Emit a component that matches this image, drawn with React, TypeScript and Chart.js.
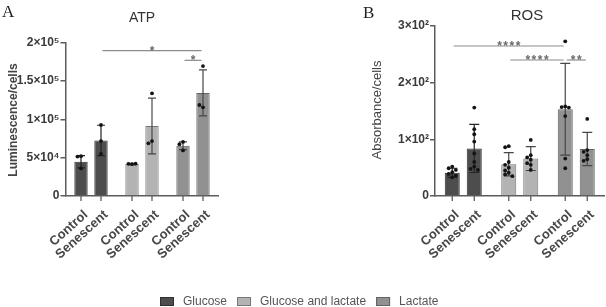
import React, { useEffect, useRef } from 'react';
import { Chart, registerables } from 'chart.js';

Chart.register(...registerables);

// ---------- data ----------
const categories = ['Glucose', 'Glucose and lactate', 'Lactate'];
const conditions = ['Control', 'Senescent'];

// ATP (Luminescence/cells)
const atpMeanControl = [44800, 41700, 65500];
const atpMeanSenescent = [72500, 91300, 134500];
const atpSdControl = [8000, 800, 5000];
const atpSdSenescent = [19800, 36300, 30000];
const atpPointsControl = [
  [52000, 51500, 36000],
  [41500, 42000, 42200],
  [70500, 67500, 59500],
];
const atpPointsSenescent = [
  [92600, 71700, 54800],
  [134000, 71700, 68700],
  [169500, 115700, 118700],
];
const atpTickValues = [0, 50000, 100000, 150000, 200000];
const atpTickLabels = ['0', '5×10⁴', '1×10⁵', '1.5×10⁵', '2×10⁵'];
// significance brackets: bar index = category*2 + condition
const atpSigStart = [1, 4];
const atpSigEnd = [5, 5];
const atpSigLevel = [189600, 177000];
const atpSigLabel = ['*', '*'];

// ROS (Absorbance/cells)
const rosMeanControl = [41, 56, 153];
const rosMeanSenescent = [84, 66, 83];
const rosSdControl = [8, 20.5, 81];
const rosSdSenescent = [42.5, 21, 29.4];
const rosPointsControl = [
  [52, 49, 46, 42, 39, 36, 33],
  [88, 86, 60, 55, 50, 45, 41, 38, 35],
  [273, 158, 157, 156, 141, 66, 49],
];
const rosPointsSenescent = [
  [156, 118, 109, 96, 75, 60, 52, 48, 46],
  [99, 72, 68, 64, 58, 55, 46],
  [136, 81, 78, 72, 65, 62],
];
const rosTickValues = [0, 100, 200, 300];
const rosTickLabels = ['0', '1×10²', '2×10²', '3×10²'];
const rosSigStart = [0, 2, 4];
const rosSigEnd = [4, 4, 5];
const rosSigLevel = [264.7, 240, 240];
const rosSigLabel = ['****', '****', '**'];

// ---------- styles ----------
const fillColors = ['#4d4d4d', '#b3b3b3', '#919191'];
const borderColors = ['#2f2f2f', '#777777', '#626262'];
const axisColor = '#5c5c5c';
const SANS = '"Liberation Sans", Arial, sans-serif';
const SERIF = '"Liberation Serif", "Times New Roman", serif';

type Panel = {
  letter: string;
  letterX: number;
  letterY: number;
  title: string;
  titleX: number;
  titleY: number;
  titleFont: string;
  yTitle: string;
  yTitleX: number;
  yTitleY: number;
  yTitleFont: string;
  meanControl: number[];
  meanSenescent: number[];
  sdControl: number[];
  sdSenescent: number[];
  pointsControl: number[][];
  pointsSenescent: number[][];
  tickValues: number[];
  tickLabels: string[];
  yMax: number;
  sigStart: number[];
  sigEnd: number[];
  sigLevel: number[];
  sigLabel: string[];
  yAxisWidth: number;
  padTop: number;
  padRight: number;
  xAxisHeight: number;
  catPct: number;
  barPct: number;
  capHalf: number;
  width: number;
  height: number;
  drawLegend: boolean;
};

function makeOverlay(p: Panel) {
  return {
    id: 'overlay',
    afterDatasetsDraw(chart: any) {
      const ctx: CanvasRenderingContext2D = chart.ctx;
      const ys = chart.scales.y;
      const area = chart.chartArea;
      const bars: { x: number; cat: number; cond: number }[] = [];
      for (let c = 0; c < categories.length; c++) {
        for (let d = 0; d < conditions.length; d++) {
          const el = chart.getDatasetMeta(d).data[c];
          bars.push({ x: el.x, cat: c, cond: d });
        }
      }
      ctx.save();
      // error bars (mean ± SD)
      bars.forEach((b) => {
        const mean = b.cond === 0 ? p.meanControl[b.cat] : p.meanSenescent[b.cat];
        const sd = b.cond === 0 ? p.sdControl[b.cat] : p.sdSenescent[b.cat];
        const yt = ys.getPixelForValue(mean + sd);
        const yb = ys.getPixelForValue(Math.max(0, mean - sd));
        ctx.strokeStyle = b.cat === 0 ? '#262626' : '#474747';
        ctx.lineWidth = 1.2;
        ctx.beginPath();
        ctx.moveTo(b.x, yt);
        ctx.lineTo(b.x, yb);
        ctx.moveTo(b.x - p.capHalf, yt);
        ctx.lineTo(b.x + p.capHalf, yt);
        ctx.moveTo(b.x - p.capHalf, yb);
        ctx.lineTo(b.x + p.capHalf, yb);
        ctx.stroke();
      });
      // individual points (simple swarm placement)
      const r = 1.9;
      const dmin = 3.6;
      bars.forEach((b) => {
        const pts = (b.cond === 0 ? p.pointsControl[b.cat] : p.pointsSenescent[b.cat]).slice();
        const placed: { x: number; y: number }[] = [];
        const cands = [0, -1, 1, -2, 2, -3, 3];
        pts.forEach((v) => {
          const py = ys.getPixelForValue(v);
          let px = b.x;
          for (const k of cands) {
            const cx = b.x + k * dmin;
            const ok = placed.every((q) => Math.hypot(q.x - cx, q.y - py) >= dmin);
            if (ok) {
              px = cx;
              break;
            }
          }
          placed.push({ x: px, y: py });
          ctx.fillStyle = '#141414';
          ctx.beginPath();
          ctx.arc(px, py, r, 0, Math.PI * 2);
          ctx.fill();
        });
      });
      // bar tick marks on x axis
      ctx.strokeStyle = axisColor;
      ctx.lineWidth = 1.3;
      bars.forEach((b) => {
        ctx.beginPath();
        ctx.moveTo(b.x, area.bottom);
        ctx.lineTo(b.x, area.bottom + 5);
        ctx.stroke();
      });
      // x labels, rotated
      ctx.fillStyle = '#474747';
      ctx.font = `bold 13px ${SANS}`;
      ctx.textAlign = 'right';
      ctx.textBaseline = 'middle';
      bars.forEach((b) => {
        ctx.save();
        ctx.translate(b.x + 5, area.bottom + 17);
        ctx.rotate((-42 * Math.PI) / 180);
        ctx.fillText(conditions[b.cond], 0, 0);
        ctx.restore();
      });
      // significance brackets
      p.sigStart.forEach((s, i) => {
        const x1 = bars[s].x + 1.5;
        const x2 = bars[p.sigEnd[i]].x - 1.5;
        const yy = ys.getPixelForValue(p.sigLevel[i]);
        ctx.strokeStyle = '#8c8c8c';
        ctx.lineWidth = 1.2;
        ctx.beginPath();
        ctx.moveTo(x1, yy);
        ctx.lineTo(x2, yy);
        ctx.stroke();
        ctx.fillStyle = '#6a6a6a';
        ctx.font = `bold 12px ${SANS}`;
        ctx.textAlign = 'center';
        ctx.textBaseline = 'alphabetic';
        (ctx as any).letterSpacing = '1.5px';
        ctx.fillText(p.sigLabel[i], (x1 + x2) / 2 + 0.75, yy + 4);
        (ctx as any).letterSpacing = '0px';
      });
      ctx.restore();
    },
    afterDraw(chart: any) {
      const ctx: CanvasRenderingContext2D = chart.ctx;
      ctx.save();
      ctx.fillStyle = '#222';
      ctx.font = `17px ${SERIF}`;
      ctx.textAlign = 'left';
      ctx.textBaseline = 'alphabetic';
      ctx.fillText(p.letter, p.letterX, p.letterY);
      ctx.fillStyle = '#333';
      ctx.font = p.titleFont;
      ctx.textAlign = 'center';
      ctx.textBaseline = 'middle';
      ctx.fillText(p.title, p.titleX, p.titleY);
      ctx.save();
      ctx.translate(p.yTitleX, p.yTitleY);
      ctx.rotate(-Math.PI / 2);
      ctx.fillStyle = '#444';
      ctx.font = p.yTitleFont;
      ctx.fillText(p.yTitle, 0, 0);
      ctx.restore();
      if (p.drawLegend) {
        // shared legend built from the categories and their colours
        let x = 160;
        const yc = 301.5;
        ctx.font = `12px ${SANS}`;
        ctx.textAlign = 'left';
        ctx.textBaseline = 'middle';
        categories.forEach((c, i) => {
          ctx.fillStyle = fillColors[i];
          ctx.fillRect(x, yc - 4.5, 14, 9);
          ctx.strokeStyle = borderColors[i];
          ctx.lineWidth = 1;
          ctx.strokeRect(x + 0.5, yc - 4.5 + 0.5, 13, 8);
          x += 14 + 9;
          ctx.fillStyle = '#555';
          ctx.fillText(c, x, yc);
          x += ctx.measureText(c).width + 10;
        });
      }
      ctx.restore();
    },
  };
}

function makeConfig(p: Panel): any {
  return {
    type: 'bar',
    data: {
      labels: categories,
      datasets: [
        {
          label: conditions[0],
          data: p.meanControl,
          backgroundColor: fillColors,
          borderColor: borderColors,
          borderWidth: 1,
          categoryPercentage: p.catPct,
          barPercentage: p.barPct,
        },
        {
          label: conditions[1],
          data: p.meanSenescent,
          backgroundColor: fillColors,
          borderColor: borderColors,
          borderWidth: 1,
          categoryPercentage: p.catPct,
          barPercentage: p.barPct,
        },
      ],
    },
    options: {
      animation: false,
      responsive: false,
      devicePixelRatio: 1,
      layout: { padding: { left: 0, right: p.padRight, top: p.padTop, bottom: 0 } },
      plugins: { legend: { display: false }, title: { display: false }, tooltip: { enabled: false } },
      scales: {
        x: {
          type: 'category',
          grid: { display: false },
          border: { display: true, color: axisColor, width: 1.5 },
          ticks: { display: false },
          afterFit: (s: any) => {
            s.height = p.xAxisHeight;
          },
        },
        y: {
          min: 0,
          max: p.yMax,
          afterBuildTicks: (s: any) => {
            s.ticks = p.tickValues.map((v) => ({ value: v }));
          },
          ticks: {
            autoSkip: false,
            padding: 1,
            color: '#3a3a3a',
            font: { family: SANS, size: 12, weight: 'bold' },
            callback: (_v: any, i: number) => p.tickLabels[i],
          },
          grid: {
            display: true,
            drawOnChartArea: false,
            drawTicks: true,
            tickLength: 5,
            color: axisColor,
            lineWidth: 1.5,
          },
          border: { display: true, color: axisColor, width: 1.5 },
          afterFit: (s: any) => {
            s.width = p.yAxisWidth;
          },
        },
      },
    },
    plugins: [makeOverlay(p)],
  };
}

const atpPanel: Panel = {
  letter: 'A',
  letterX: 2,
  letterY: 17,
  title: 'ATP',
  titleX: 142,
  titleY: 18,
  titleFont: `14px ${SANS}`,
  yTitle: 'Luminescence/cells',
  yTitleX: 14,
  yTitleY: 120,
  yTitleFont: `bold 12px ${SANS}`,
  meanControl: atpMeanControl,
  meanSenescent: atpMeanSenescent,
  sdControl: atpSdControl,
  sdSenescent: atpSdSenescent,
  pointsControl: atpPointsControl,
  pointsSenescent: atpPointsSenescent,
  tickValues: atpTickValues,
  tickLabels: atpTickLabels,
  yMax: 200000,
  sigStart: atpSigStart,
  sigEnd: atpSigEnd,
  sigLevel: atpSigLevel,
  sigLabel: atpSigLabel,
  yAxisWidth: 65.5,
  padTop: 42.7,
  padRight: 81.5,
  xAxisHeight: 64,
  catPct: 0.784,
  barPct: 0.667,
  capHalf: 4,
  width: 300,
  height: 260,
  drawLegend: false,
};

// the ROS canvas covers the full page so it can also carry the shared legend
const rosPanel: Panel = {
  letter: 'B',
  letterX: 363,
  letterY: 18,
  title: 'ROS',
  titleX: 527,
  titleY: 16,
  titleFont: `15px ${SANS}`,
  yTitle: 'Absorbance/cells',
  yTitleX: 377,
  yTitleY: 110,
  yTitleFont: `13px ${SANS}`,
  meanControl: rosMeanControl,
  meanSenescent: rosMeanSenescent,
  sdControl: rosSdControl,
  sdSenescent: rosSdSenescent,
  pointsControl: rosPointsControl,
  pointsSenescent: rosPointsSenescent,
  tickValues: rosTickValues,
  tickLabels: rosTickLabels,
  yMax: 300,
  sigStart: rosSigStart,
  sigEnd: rosSigEnd,
  sigLevel: rosSigLevel,
  sigLabel: rosSigLabel,
  yAxisWidth: 435,
  padTop: 26,
  padRight: 1.5,
  xAxisHeight: 111,
  catPct: 0.779,
  barPct: 0.682,
  capHalf: 5,
  width: 606,
  height: 307,
  drawLegend: true,
};

function PanelChart({ panel }: { panel: Panel }) {
  const ref = useRef<HTMLCanvasElement | null>(null);
  useEffect(() => {
    if (!ref.current) return;
    const chart = new Chart(ref.current, makeConfig(panel));
    return () => chart.destroy();
  }, [panel]);
  return (
    <canvas
      ref={ref}
      width={panel.width}
      height={panel.height}
      style={{ position: 'absolute', left: 0, top: 0, width: panel.width, height: panel.height }}
    />
  );
}

export default function App() {
  return (
    <div style={{ position: 'absolute', left: 0, top: 0, width: 606, height: 307, background: '#fff', overflow: 'hidden' }}>
      <PanelChart panel={atpPanel} />
      <PanelChart panel={rosPanel} />
    </div>
  );
}
